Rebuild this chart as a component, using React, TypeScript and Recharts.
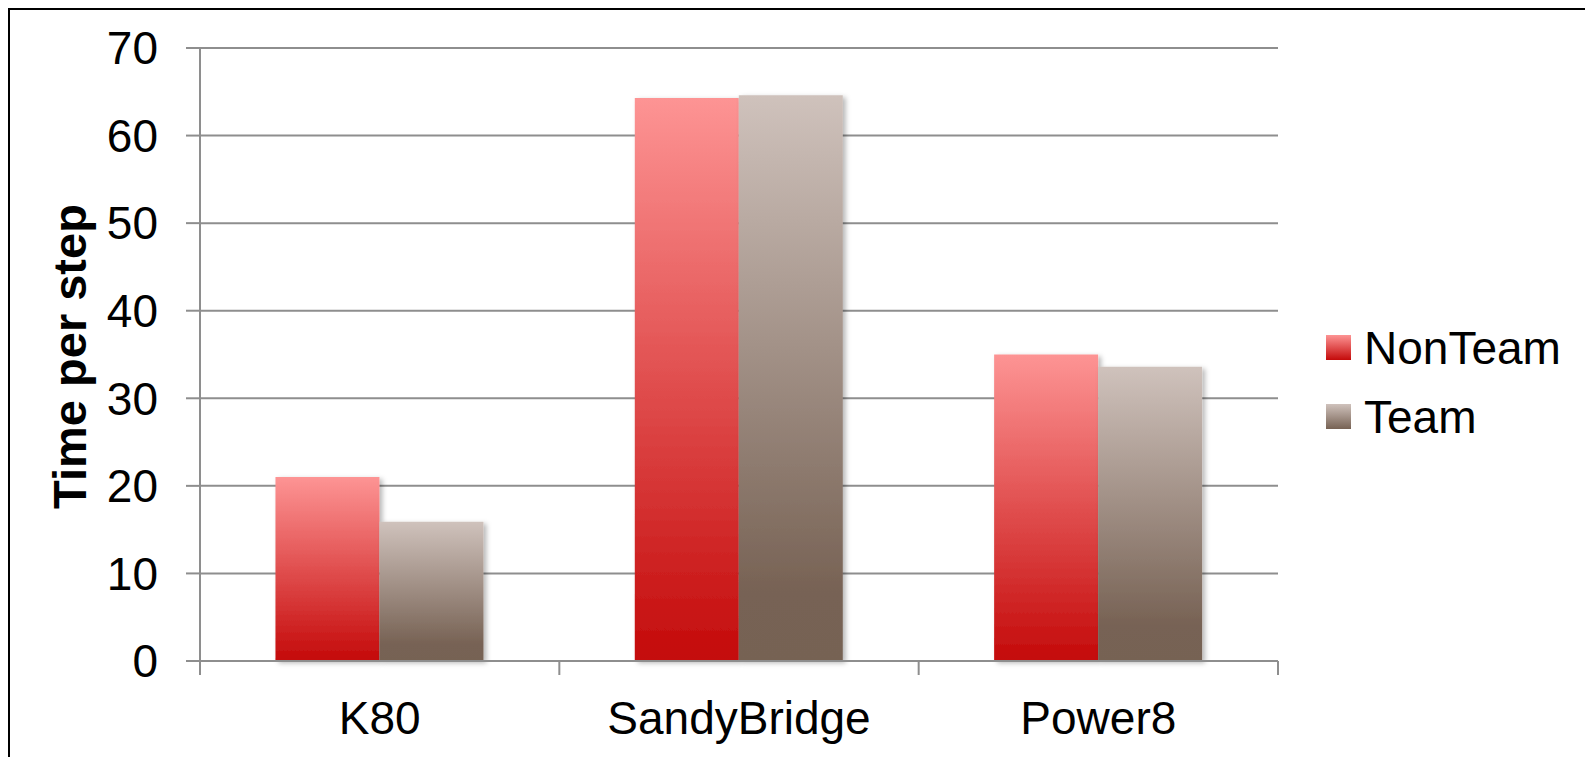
import React from 'react';
import { BarChart, Bar, XAxis, YAxis, CartesianGrid, Legend } from 'recharts';

const categories = ['K80', 'SandyBridge', 'Power8'];
const nonTeam = [21.0, 64.3, 35.0];
const team = [15.9, 64.6, 33.6];
const yTicks = [0, 10, 20, 30, 40, 50, 60, 70];
const seriesNames = ['NonTeam', 'Team'];

const data = categories.map((c, i) => ({ name: c, NonTeam: nonTeam[i], Team: team[i] }));

const FONT = "'Liberation Sans', Arial, sans-serif";
const GRID = '#8e8e8e';
const X_TICK_MARGIN = 40;
const X_TICK_LEN = 14;

const legendGradients = [
  'linear-gradient(#fd9494, #c40a0a)',
  'linear-gradient(#cfc2bc, #776254)',
];

const LegendContent = () => (
  <div style={{ fontFamily: FONT, fontSize: 46, color: '#000' }}>
    {seriesNames.map((n, i) => (
      <div key={n} style={{ display: 'flex', alignItems: 'center', height: 69 }}>
        <div style={{ width: 25, height: 25, background: legendGradients[i], marginRight: 13 }} />
        <span style={{ lineHeight: '46px' }}>{n}</span>
      </div>
    ))}
  </div>
);

// Category tick: label at the band centre, tick marks at the band boundaries
const CategoryTick = (props: any) => {
  const { x, y, payload, index, visibleTicksCount } = props;
  const half = payload && payload.offset ? payload.offset : 0;
  const axisY = y - X_TICK_MARGIN;
  const isLast = index === visibleTicksCount - 1;
  return (
    <g>
      <line x1={x - half} x2={x - half} y1={axisY} y2={axisY + X_TICK_LEN} stroke={GRID} strokeWidth={2} />
      {isLast && (
        <line x1={x + half} x2={x + half} y1={axisY} y2={axisY + X_TICK_LEN} stroke={GRID} strokeWidth={2} />
      )}
      <text
        x={x}
        y={y}
        dy="0.71em"
        textAnchor="middle"
        fill="#000"
        fontSize={46}
        fontFamily={FONT}
      >
        {payload.value}
      </text>
    </g>
  );
};

const YLabel = (props: any) => {
  const vb = props.viewBox || { x: 0, y: 0, width: 0, height: 0 };
  const cx = vb.x + 76;
  const cy = vb.y + vb.height / 2 + 2;
  return (
    <text
      x={cx}
      y={cy}
      transform={`rotate(-90, ${cx}, ${cy})`}
      textAnchor="middle"
      fontFamily={FONT}
      fontSize={47}
      fontWeight="bold"
      fill="#000"
    >
      Time per step
    </text>
  );
};

export default function App() {
  return (
    <div
      style={{
        width: 1600,
        height: 760,
        border: '2px solid #000',
        boxSizing: 'border-box',
        background: '#fff',
        position: 'relative',
      }}
    >
      <BarChart
        width={1583}
        height={747}
        data={data}
        margin={{ top: 38, right: 315, bottom: 0, left: 0 }}
        barCategoryGap="21%"
        barGap={0}
      >
        <defs>
          <linearGradient id="gNon" x1="0" y1="0" x2="0" y2="1">
            <stop offset="0%" stopColor="#fd9494" />
            <stop offset="100%" stopColor="#c40a0a" />
          </linearGradient>
          <linearGradient id="gTeam" x1="0" y1="0" x2="0" y2="1">
            <stop offset="0%" stopColor="#cfc2bc" />
            <stop offset="88%" stopColor="#776254" />
            <stop offset="100%" stopColor="#766253" />
          </linearGradient>
          <filter id="shadow" x="-10%" y="-10%" width="130%" height="130%">
            <feDropShadow dx="3" dy="2" stdDeviation="2.5" floodColor="#000" floodOpacity="0.28" />
          </filter>
        </defs>
        <CartesianGrid vertical={false} stroke={GRID} strokeWidth={2} />
        <XAxis
          dataKey="name"
          tickLine={false}
          tickSize={0}
          tickMargin={X_TICK_MARGIN}
          height={96}
          axisLine={{ stroke: GRID, strokeWidth: 2 }}
          tick={<CategoryTick />}
          interval={0}
        />
        <YAxis
          width={190}
          domain={[0, 70]}
          ticks={yTicks}
          interval={0}
          tickSize={14}
          tickMargin={28}
          tickLine={{ stroke: GRID, strokeWidth: 2 }}
          axisLine={{ stroke: GRID, strokeWidth: 2 }}
          tick={{ fill: '#000', fontSize: 46, fontFamily: FONT }}
          label={{ content: <YLabel /> }}
        />
        <Legend
          layout="horizontal"
          align="center"
          verticalAlign="middle"
          content={<LegendContent />}
          wrapperStyle={{ left: 1316, top: 303, width: 270, height: 140 }}
        />
        <Bar dataKey="NonTeam" fill="url(#gNon)" filter="url(#shadow)" isAnimationActive={false} />
        <Bar dataKey="Team" fill="url(#gTeam)" filter="url(#shadow)" isAnimationActive={false} />
      </BarChart>
    </div>
  );
}
